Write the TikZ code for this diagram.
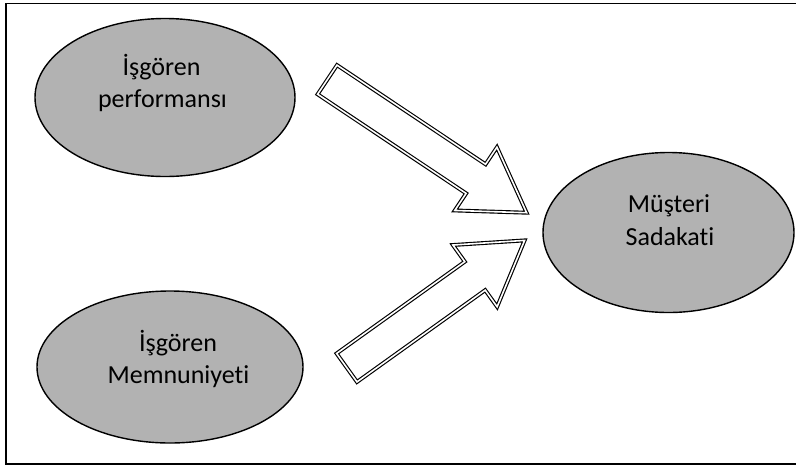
\documentclass[tikz,border=0pt]{standalone}
\usepackage{fontspec}
\setmainfont{Carlito}[RawFeature={-liga;-calt}]
\usetikzlibrary{shapes.geometric,calc}
\definecolor{ovalgray}{RGB}{178,178,178}
\begin{document}
\begin{tikzpicture}[x=1pt,y=-1pt,
  oval/.style={ellipse, draw=black, line width=1.4pt, fill=ovalgray, inner sep=0pt},
  caption/.style={anchor=base, inner sep=0pt, font=\fontsize{26}{32}\selectfont},
  hollowarrow/.style={draw=black, double=white, double distance=1.6pt,
    line width=1.15pt, line join=miter, miter limit=10},
  framebox/.style={draw=black, line width=1.5pt}]
\useasboundingbox (0,0) rectangle (796,467);
\clip (0,0) rectangle (796,467);

% outer frame
\draw[framebox] (6,3.5) rectangle (805,464);

% ovals
\node[oval, minimum width=260pt, minimum height=158pt] (e1) at (165,97.5) {};
\node[oval, minimum width=266pt, minimum height=152pt] (e2) at (170,367) {};
\node[oval, minimum width=251pt, minimum height=160pt] (e3) at (668.5,232.5) {};

% captions
\node[caption] (t1a) at (161.5,75) {İşgören};
\node[caption] (t1b) at (162.5,107) {performansı};
\node[caption] (t2a) at (178,351) {İşgören};
\node[caption] (t2b) at (178.5,383) {Memnuniyeti};
\node[caption] (t3a) at (669,212.5) {Müşteri};
\node[caption] (t3b) at (670,245) {Sadakati};

% hollow block arrows: tail centre and tip
\coordinate (a1t) at (327.3,79.7);
\coordinate (a1h) at (526.6,212.7);
\coordinate (a2t) at (346.8,367.7);
\coordinate (a2h) at (524.6,240.4);

\foreach \t/\h in {a1t/a1h, a2t/a2h}{
  \draw[hollowarrow]
    ($(\t)!17.5pt!90:(\h)$)
    -- ($(\h)!61pt!(\t)!17.5pt!-90:(\t)$)
    -- ($(\h)!61pt!(\t)!38pt!-90:(\t)$)
    -- (\h)
    -- ($(\h)!61pt!(\t)!38pt!90:(\t)$)
    -- ($(\h)!61pt!(\t)!17.5pt!90:(\t)$)
    -- ($(\t)!17.5pt!-90:(\h)$)
    -- cycle;
}
\end{tikzpicture}
\end{document}
